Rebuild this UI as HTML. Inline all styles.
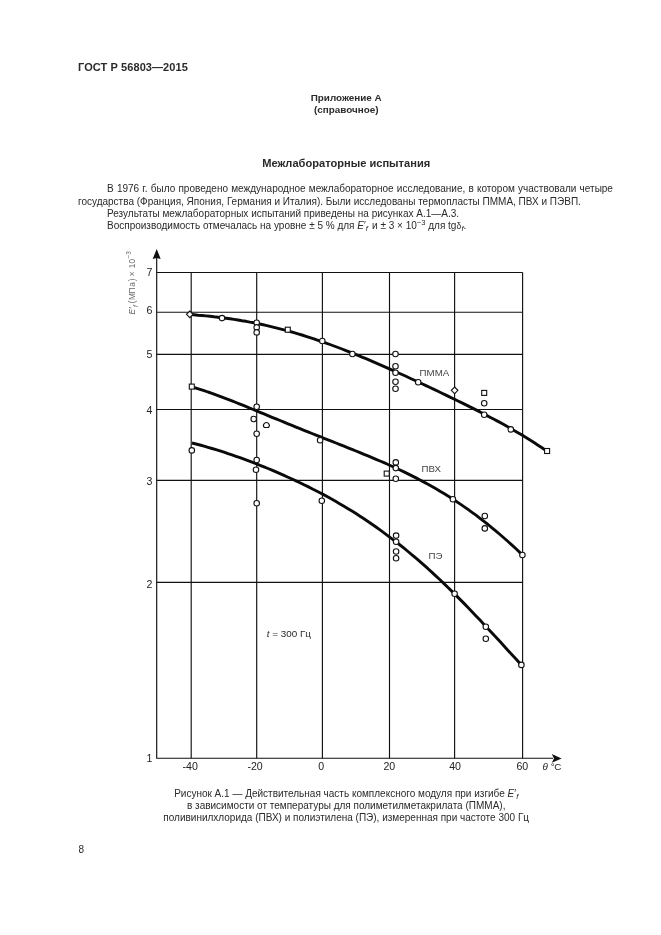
<!DOCTYPE html>
<html lang="ru">
<head>
<meta charset="utf-8">
<title>ГОСТ Р 56803—2015</title>
<style>
html,body{margin:0;padding:0;background:#fff;}
body{width:661px;height:935px;position:relative;overflow:hidden;will-change:transform;font-family:"Liberation Sans",sans-serif;color:#2a2a2a;}
.t{position:absolute;white-space:nowrap;line-height:1;}
.b{font-weight:bold;}
.c{text-align:center;left:0;width:692.4px;}
i{font-style:italic;}
sub,sup{font-size:76%;line-height:0;}
sub{vertical-align:-2.2px;}
sup{vertical-align:3.6px;}
.d{font-size:8.4px;letter-spacing:0.3px;}
#hdr{left:78px;top:61.8px;font-size:11px;letter-spacing:0.08px;}
#app1{top:93.4px;font-size:9.9px;}
#app2{top:104.8px;font-size:9.9px;}
#ttl{top:157.7px;font-size:11.1px;}
.p{font-size:10px;left:78px;}
#cap1,#cap2,#cap3{font-size:10px;}
#pg{left:78.5px;top:844.5px;font-size:10px;}
svg{position:absolute;left:0;top:0;}
svg text{font-family:"Liberation Sans",sans-serif;}
</style>
</head>
<body>
<div class="t b" id="hdr">ГОСТ Р 56803—2015</div>
<div class="t b c" id="app1">Приложение А</div>
<div class="t b c" id="app2">(справочное)</div>
<div class="t b c" id="ttl">Межлабораторные испытания</div>

<div class="t p" id="p1" style="left:107px;top:184.4px;word-spacing:0.45px;">В 1976 г. было проведено международное межлабораторное исследование, в котором участвовали четыре</div>
<div class="t p" id="p2" style="top:196.5px;">государства (Франция, Япония, Германия и Италия). Были исследованы термопласты ПММА, ПВХ и ПЭВП.</div>
<div class="t p" id="p3" style="left:107px;top:208.5px;">Результаты межлабораторных испытаний приведены на рисунках А.1—А.3.</div>
<div class="t p" id="p4" style="left:107px;top:220.7px;">Воспроизводимость отмечалась на уровне ± 5 % для <i>E</i>′<sub><i>f</i></sub><span style="margin-left:1.3px"> и</span> ± 3 × 10<sup>−3</sup> для tg<span class="d">δ</span><sub><i>f</i></sub>.</div>

<svg width="661" height="935" viewBox="0 0 661 935">
<g fill="none" stroke="#111" stroke-width="1.15">
<path d="M156.7 272.5H522.6"/>
<path d="M156.7 312.2H522.6"/>
<path d="M156.7 354.3H522.6"/>
<path d="M156.7 409.5H522.6"/>
<path d="M156.7 480.3H522.6"/>
<path d="M156.7 582.3H522.6"/>
<path d="M191.2 272.5V758.2"/>
<path d="M256.7 272.5V758.2"/>
<path d="M322.4 272.5V758.2"/>
<path d="M389.5 272.5V758.2"/>
<path d="M454.6 272.5V758.2"/>
<path d="M522.6 272.5V758.2"/>
<path d="M156.7 257V758.2H553"/>
</g>
<path d="M156.7 249L152.7 258.9L156.7 257.9L160.7 258.9Z" fill="#111"/>
<path d="M561.6 758.4L551.8 754.1L554 758.4L551.8 762.7Z" fill="#111"/>
<g fill="none" stroke="#0a0a0a" stroke-width="2.9" stroke-linecap="butt" stroke-linejoin="round">
<path d="M190.0 314.5 L194.0 314.8 L198.0 315.2 L202.0 315.5 L206.0 315.9 L210.0 316.3 L214.0 316.8 L218.0 317.2 L222.0 317.7 L226.0 318.2 L230.0 318.8 L234.0 319.4 L238.0 320.0 L242.0 320.7 L246.0 321.3 L250.0 322.1 L254.0 322.8 L258.0 323.7 L262.0 324.5 L266.0 325.4 L270.0 326.3 L274.0 327.3 L278.0 328.3 L282.0 329.3 L286.0 330.4 L290.0 331.5 L294.0 332.6 L298.0 333.8 L302.0 335.0 L306.0 336.3 L310.0 337.6 L314.0 338.9 L318.0 340.3 L322.0 341.7 L326.0 343.1 L330.0 344.5 L334.0 346.0 L338.0 347.5 L342.0 349.0 L346.0 350.6 L350.0 352.2 L354.0 353.8 L358.0 355.4 L362.0 357.1 L366.0 358.7 L370.0 360.4 L374.0 362.1 L378.0 363.9 L382.0 365.6 L386.0 367.4 L390.0 369.1 L394.0 370.9 L398.0 372.7 L402.0 374.5 L406.0 376.3 L410.0 378.2 L414.0 380.0 L418.0 381.9 L422.0 383.7 L426.0 385.6 L430.0 387.5 L434.0 389.4 L438.0 391.3 L442.0 393.2 L446.0 395.1 L450.0 397.1 L454.0 399.0 L458.0 401.0 L462.0 402.9 L466.0 404.9 L470.0 406.9 L474.0 408.9 L478.0 410.9 L482.0 413.0 L486.0 415.1 L490.0 417.2 L494.0 419.3 L498.0 421.4 L502.0 423.6 L506.0 425.8 L510.0 428.1 L514.0 430.4 L518.0 432.7 L522.0 435.1 L526.0 437.5 L530.0 440.0 L534.0 442.5 L538.0 445.2 L542.0 447.8 L546.0 450.6 L547.0 451.3"/>
<path d="M192.0 387.0 L196.0 388.1 L200.0 389.3 L204.0 390.6 L208.0 392.0 L212.0 393.3 L216.0 394.8 L220.0 396.3 L224.0 397.8 L228.0 399.3 L232.0 400.9 L236.0 402.5 L240.0 404.1 L244.0 405.7 L248.0 407.3 L252.0 409.0 L256.0 410.6 L260.0 412.3 L264.0 413.9 L268.0 415.6 L272.0 417.3 L276.0 418.9 L280.0 420.5 L284.0 422.2 L288.0 423.8 L292.0 425.4 L296.0 427.1 L300.0 428.7 L304.0 430.3 L308.0 431.9 L312.0 433.5 L316.0 435.1 L320.0 436.7 L324.0 438.3 L328.0 439.8 L332.0 441.4 L336.0 443.0 L340.0 444.6 L344.0 446.2 L348.0 447.8 L352.0 449.4 L356.0 451.0 L360.0 452.6 L364.0 454.3 L368.0 455.9 L372.0 457.6 L376.0 459.3 L380.0 461.0 L384.0 462.7 L388.0 464.5 L392.0 466.3 L396.0 468.1 L400.0 470.0 L404.0 471.9 L408.0 473.9 L412.0 475.9 L416.0 477.9 L420.0 480.0 L424.0 482.1 L428.0 484.3 L432.0 486.5 L436.0 488.8 L440.0 491.2 L444.0 493.6 L448.0 496.1 L452.0 498.6 L456.0 501.2 L460.0 503.9 L464.0 506.6 L468.0 509.4 L472.0 512.3 L476.0 515.2 L480.0 518.3 L484.0 521.4 L488.0 524.5 L492.0 527.8 L496.0 531.1 L500.0 534.5 L504.0 538.0 L508.0 541.5 L512.0 545.1 L516.0 548.8 L520.0 552.6 L522.0 554.5"/>
<path d="M192.0 443.0 L196.0 444.0 L200.0 445.0 L204.0 446.1 L208.0 447.3 L212.0 448.5 L216.0 449.7 L220.0 450.9 L224.0 452.2 L228.0 453.6 L232.0 454.9 L236.0 456.3 L240.0 457.7 L244.0 459.2 L248.0 460.7 L252.0 462.2 L256.0 463.7 L260.0 465.3 L264.0 466.9 L268.0 468.5 L272.0 470.2 L276.0 471.9 L280.0 473.6 L284.0 475.4 L288.0 477.2 L292.0 479.0 L296.0 480.9 L300.0 482.7 L304.0 484.7 L308.0 486.6 L312.0 488.7 L316.0 490.7 L320.0 492.8 L324.0 494.9 L328.0 497.1 L332.0 499.3 L336.0 501.6 L340.0 503.9 L344.0 506.3 L348.0 508.7 L352.0 511.1 L356.0 513.6 L360.0 516.2 L364.0 518.8 L368.0 521.5 L372.0 524.2 L376.0 527.0 L380.0 529.9 L384.0 532.8 L388.0 535.8 L392.0 538.8 L396.0 541.9 L400.0 545.0 L404.0 548.2 L408.0 551.5 L412.0 554.8 L416.0 558.2 L420.0 561.7 L424.0 565.2 L428.0 568.7 L432.0 572.4 L436.0 576.1 L440.0 579.8 L444.0 583.6 L448.0 587.5 L452.0 591.4 L456.0 595.4 L460.0 599.4 L464.0 603.4 L468.0 607.5 L472.0 611.7 L476.0 615.9 L480.0 620.1 L484.0 624.4 L488.0 628.7 L492.0 633.0 L496.0 637.3 L500.0 641.6 L504.0 646.0 L508.0 650.4 L512.0 654.7 L516.0 659.1 L520.0 663.5 L521.4 665.0"/>
</g>
<g fill="#fff" stroke="#111" stroke-width="1.1">
<path d="M189.8 311.0l3.3 3.3l-3.3 3.3l-3.3-3.3z"/>
<circle cx="222.0" cy="318.1" r="2.75"/>
<circle cx="256.7" cy="322.7" r="2.75"/>
<circle cx="256.7" cy="327.4" r="2.75"/>
<circle cx="256.7" cy="332.4" r="2.75"/>
<rect x="285.3" y="327.2" width="5" height="5"/>
<circle cx="322.3" cy="341.0" r="2.75"/>
<circle cx="352.4" cy="354.0" r="2.75"/>
<circle cx="395.5" cy="354.0" r="2.75"/>
<circle cx="395.5" cy="366.3" r="2.75"/>
<circle cx="395.5" cy="372.7" r="2.75"/>
<circle cx="395.5" cy="381.7" r="2.75"/>
<circle cx="395.5" cy="388.8" r="2.75"/>
<circle cx="418.2" cy="382.2" r="2.75"/>
<path d="M454.6 387.0l3.3 3.3l-3.3 3.3l-3.3-3.3z"/>
<rect x="481.7" y="390.4" width="5" height="5"/>
<circle cx="484.2" cy="403.3" r="2.75"/>
<circle cx="484.2" cy="414.7" r="2.75"/>
<circle cx="510.8" cy="429.4" r="2.75"/>
<rect x="544.6" y="448.5" width="5" height="5"/>
<rect x="189.3" y="384.1" width="5" height="5"/>
<circle cx="256.7" cy="406.8" r="2.75"/>
<circle cx="253.7" cy="419.0" r="2.75"/>
<path d="M264.20 427.44A2.9 2.9 0 1 1 268.60 427.44Z"/>
<circle cx="256.7" cy="433.7" r="2.75"/>
<circle cx="320.1" cy="440.3" r="2.75"/>
<circle cx="395.8" cy="462.4" r="2.75"/>
<circle cx="395.8" cy="468.1" r="2.75"/>
<rect x="384.2" y="471.1" width="5" height="5"/>
<circle cx="395.8" cy="478.8" r="2.75"/>
<circle cx="452.9" cy="499.3" r="2.75"/>
<circle cx="484.8" cy="516.0" r="2.75"/>
<circle cx="484.8" cy="528.4" r="2.75"/>
<circle cx="522.4" cy="555.0" r="2.75"/>
<circle cx="191.8" cy="450.4" r="2.75"/>
<circle cx="256.7" cy="460.0" r="2.75"/>
<circle cx="256.0" cy="469.7" r="2.75"/>
<circle cx="256.7" cy="503.3" r="2.75"/>
<circle cx="321.8" cy="500.8" r="2.75"/>
<circle cx="396.1" cy="535.6" r="2.75"/>
<circle cx="396.1" cy="541.7" r="2.75"/>
<circle cx="396.1" cy="551.5" r="2.75"/>
<circle cx="396.1" cy="558.3" r="2.75"/>
<circle cx="454.6" cy="593.7" r="2.75"/>
<circle cx="485.8" cy="626.7" r="2.75"/>
<circle cx="485.8" cy="638.8" r="2.75"/>
<circle cx="521.4" cy="664.9" r="2.75"/>
</g>
<g font-size="10.6" fill="#222">
<text x="152.4" y="276.1" text-anchor="end">7</text>
<text x="152.4" y="314.2" text-anchor="end">6</text>
<text x="152.4" y="358.2" text-anchor="end">5</text>
<text x="152.4" y="414.2" text-anchor="end">4</text>
<text x="152.4" y="484.6" text-anchor="end">3</text>
<text x="152.4" y="587.8" text-anchor="end">2</text>
<text x="152.4" y="761.8" text-anchor="end">1</text>
<text x="190.2" y="770.1" text-anchor="middle">-40</text>
<text x="255.1" y="770.1" text-anchor="middle">-20</text>
<text x="321.3" y="770.1" text-anchor="middle">0</text>
<text x="389.3" y="770.1" text-anchor="middle">20</text>
<text x="455.1" y="770.1" text-anchor="middle">40</text>
<text x="522.3" y="770.1" text-anchor="middle">60</text>
<text y="770" font-size="9.9"><tspan font-style="italic" x="542.6">θ</tspan><tspan x="550.8">°</tspan><tspan x="554.2">C</tspan></text>
</g>
<g font-size="9.7" fill="#444">
<text x="419.6" y="376.2">ПММА</text>
<text x="421.6" y="472">ПВХ</text>
<text x="428.6" y="559.2">ПЭ</text>
<text x="266.8" y="636.7" fill="#2a2a2a" font-size="9.9"><tspan font-style="italic">t</tspan> = 300 Гц</text>
</g>
<text transform="translate(135 314.6) rotate(-90)" font-size="8.3" fill="#686868"><tspan font-style="italic" x="0">E</tspan><tspan x="6.2">′</tspan><tspan font-style="italic" font-size="6.6" x="7.6" y="2.6">f</tspan><tspan x="11.3 14.7 21.2 27.9 33.4 38.4 46.4 51" y="0">(МПа)×10</tspan><tspan font-size="6.4" x="56 59.8" y="-3.6">−3</tspan></text>
</svg>

<div class="t c" id="cap1" style="top:789.2px;">Рисунок А.1 — Действительная часть комплексного модуля при изгибе <i>E</i>′<sub><i>f</i></sub></div>
<div class="t c" id="cap2" style="top:801.3px;">в зависимости от температуры для полиметилметакрилата (ПММА),</div>
<div class="t c" id="cap3" style="top:813.4px;">поливинилхлорида (ПВХ) и полиэтилена (ПЭ), измеренная при частоте 300 Гц</div>
<div class="t" id="pg">8</div>
</body>
</html>
